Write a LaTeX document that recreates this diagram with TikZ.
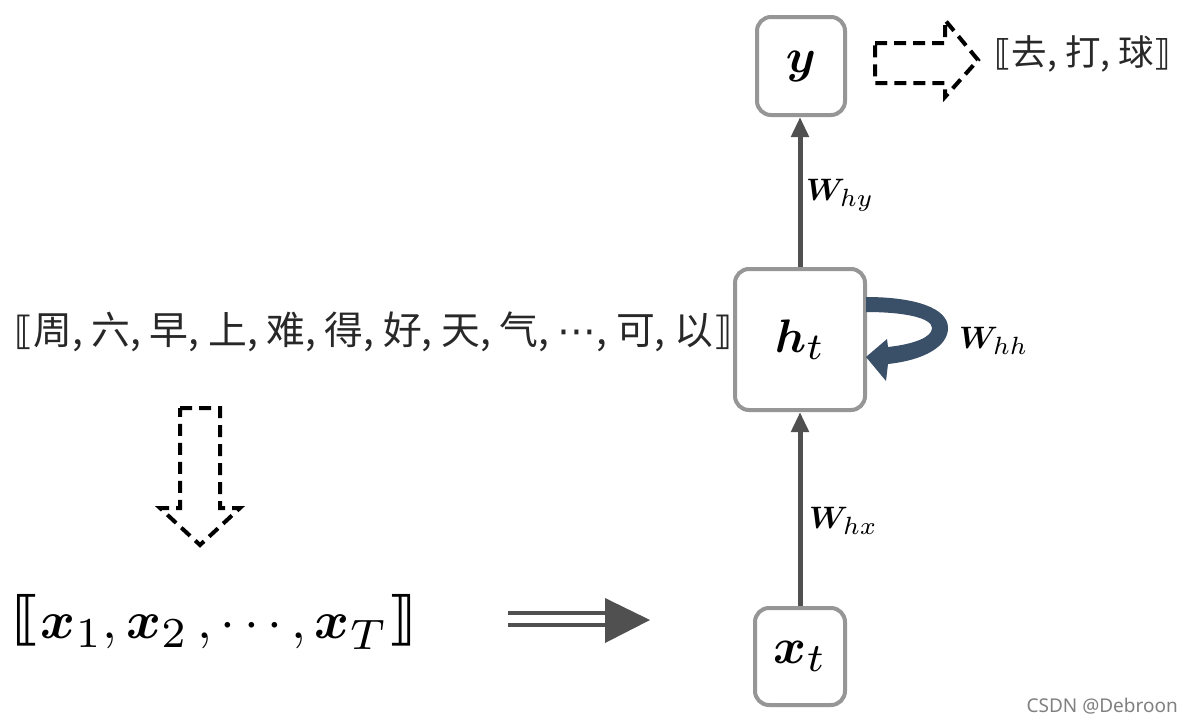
\documentclass[tikz,border=0pt]{standalone}
\usepackage{fontspec}
\usepackage{graphicx}
\usepackage{bm}
\usetikzlibrary{arrows.meta}
\newfontfamily\cjk{Noto Sans CJK SC}
\newfontfamily\dvs{DejaVu Sans}
\newfontfamily\wmfont{Noto Sans}
\definecolor{boxgray}{RGB}{150,150,150}
\definecolor{conngray}{RGB}{80,80,80}
\definecolor{loopblue}{RGB}{58,79,104}
\definecolor{cjktext}{RGB}{40,40,40}
\newcommand{\scaledmath}[2]{\scalebox{#1}{\normalsize$#2$}}
\newcommand{\sbig}[1]{\scalebox{1.15}{$\scriptstyle #1$}}
\tikzset{
  rbox/.style={draw=boxgray, line width=4pt, rounded corners=14pt, fill=white, inner sep=0pt},
  conn/.style={draw=conngray, line width=5pt, -{Triangle[length=20pt,width=17pt]}},
  dashedblock/.style={draw=black, line width=4pt, dash pattern=on 12pt off 7pt, line join=miter},
  wlabel/.style={anchor=base west, inner sep=0pt},
}
\begin{document}
\begin{tikzpicture}[x=1pt,y=-1pt]
\useasboundingbox[fill=white] (0,0) rectangle (1193,723);

% boxes
\node[rbox, minimum width=88pt, minimum height=98pt] (y) at (801,66) {\scaledmath{4.8}{\bm{y}}};
\node[rbox, minimum width=130pt, minimum height=141pt] (ht) at (800,339.5) {\scaledmath{4.7}{\bm{h}_{\sbig{t}}}};
\node[rbox, minimum width=90pt, minimum height=97pt] (xt) at (800,656.5) {\scaledmath{5.0}{\bm{x}_{\sbig{t}}}};

% connectors
\draw[conn] (xt.north) -- (ht.south);
\draw[conn] (ht.north) -- (y.south -| ht.north);

% weight labels
\node[wlabel] (why) at (806,200) {\scaledmath{3.1}{\bm{W}_{\sbig{hy}}}};
\node[wlabel] (whx) at (809,528) {\scaledmath{3.1}{\bm{W}_{\sbig{hx}}}};
\node[wlabel] (whh) at (959,348) {\scaledmath{3.1}{\bm{W}_{\sbig{hh}}}};

% self loop ribbon arrow
\fill[loopblue] (866,297) .. controls (915,297) and (948,308) .. (948,328)
  .. controls (948,346) and (925,360) .. (888,364)
  -- (886,381) -- (866,357) -- (887,339) -- (888,347)
  .. controls (915,344) and (932,337) .. (932,328)
  .. controls (932,318) and (905,312) .. (866,312) -- cycle;

% top-right dashed block arrow and output
\draw[dashedblock] (875,43) -- (945,43) -- (945,20) -- (978,60) -- (945,97) -- (945,83) -- (875,83) -- cycle;
\node[anchor=west, inner sep=0pt, text=cjktext] (out) at (994,54) {\fontsize{35.5}{40}\selectfont{\dvs ⟦}\cjk 去, 打, 球{\dvs ⟧}};

% input sentence
\node[anchor=west, inner sep=0pt, text=cjktext] (sent) at (14,332) {\fontsize{38.8}{44}\selectfont{\dvs ⟦}\cjk 周, 六, 早, 上, 难, 得, 好, 天, 气, {\dvs ⋯}, 可, 以{\dvs ⟧}};

% down dashed block arrow
\draw[dashedblock] (180,408) -- (220,408) -- (220,508) -- (240,508) -- (200,545) -- (160,508) -- (180,508) -- cycle;

% sequence
\node[anchor=west, inner sep=0pt] (seq) at (12,622) {\fontsize{58}{62}\selectfont{\dvs ⟦}\scaledmath{5.3}{\bm{x}_{\sbig{1}}, \bm{x}_{\sbig{2}}\,, \cdots, \bm{x}_{\sbig{T}}}{\dvs ⟧}};

% double arrow
\coordinate (dstart) at (508,619);
\coordinate (dend) at (606,619);
\draw[conngray, line width=4pt] ([yshift=-6pt]dstart) -- ([yshift=-6pt]dend);
\draw[conngray, line width=4pt] ([yshift=6pt]dstart) -- ([yshift=6pt]dend);
\fill[conngray] (605,598) -- (650,620) -- (605,643) -- cycle;

% watermark
\node[anchor=east, inner sep=0pt, text=gray] (wm) at (1178,706) {\wmfont\fontsize{19}{22}\selectfont CSDN @Debroon};
\end{tikzpicture}
\end{document}
